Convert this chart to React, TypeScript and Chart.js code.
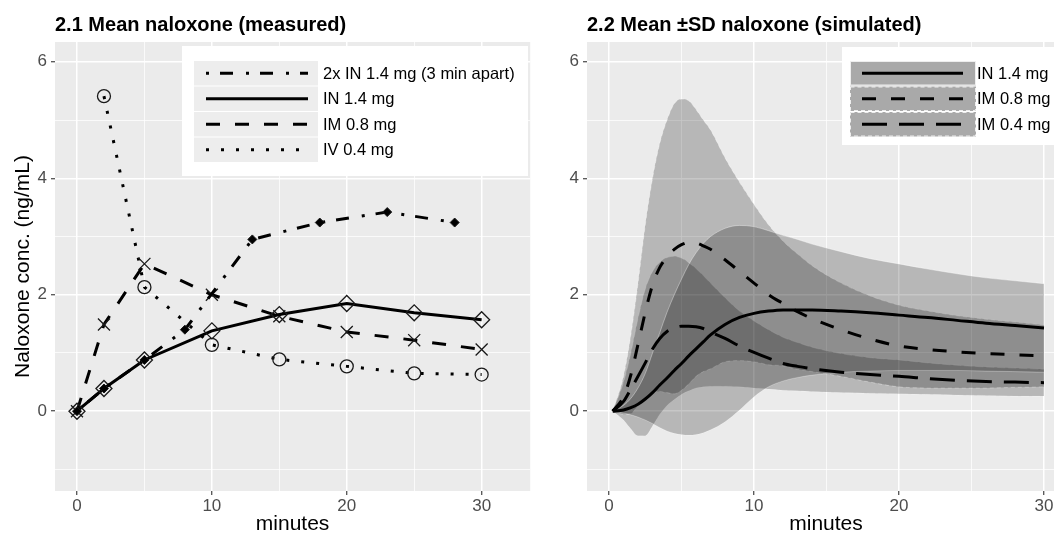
import React, { useEffect, useRef } from "react";
import { Chart, registerables } from "chart.js";

Chart.register(...registerables);

const FONT = '"Liberation Sans", Arial, Helvetica, sans-serif';
const TICK_TEXT = "#4D4D4D";
const PANEL_BG = "#EBEBEB";

// ---------- shared text / ticks
const panelTitles = ["2.1 Mean naloxone (measured)", "2.2 Mean \u00B1SD naloxone (simulated)"];
const yAxisTitle = "Naloxone conc. (ng/mL)";
const xAxisTitle = "minutes";
const xMajorTicks = [0, 10, 20, 30];
const yMajorTicks = [0, 2, 4, 6];

// ---------- 2.1 measured
const measuredLabels = ["2x IN 1.4 mg (3 min apart)", "IN 1.4 mg", "IM 0.8 mg", "IV 0.4 mg"];
const twoIn14Minutes = [0, 2, 5, 8, 13, 18, 23, 28];
const twoIn14Measured = [0, 0.39, 0.88, 1.4, 2.95, 3.24, 3.42, 3.24];
const measuredMinutes = [0, 2, 5, 10, 15, 20, 25, 30];
const in14Measured = [0, 0.39, 0.88, 1.38, 1.66, 1.85, 1.69, 1.57];
const im08Measured = [0, 1.49, 2.53, 2.0, 1.63, 1.36, 1.22, 1.06];
const iv04Minutes = [2, 5, 10, 15, 20, 25, 30];
const iv04Measured = [5.41, 2.13, 1.14, 0.89, 0.77, 0.65, 0.63];

// ---------- 2.2 simulated
const simulatedLabels = ["IN 1.4 mg", "IM 0.8 mg", "IM 0.4 mg"];
const simMinutes = [0.25, 1, 1.5, 2, 2.5, 3, 3.5, 4, 4.5, 5, 5.5, 6, 6.5, 7, 8, 9, 10, 11, 12, 13, 14, 16, 18, 20, 22, 24, 26, 28, 30];
const in14Mean = [0, 0.02, 0.06, 0.12, 0.21, 0.32, 0.45, 0.57, 0.7, 0.82, 0.95, 1.07, 1.19, 1.31, 1.49, 1.61, 1.68, 1.72, 1.74, 1.74, 1.74, 1.72, 1.69, 1.65, 1.61, 1.56, 1.51, 1.47, 1.43];
const in14Upper = [0, 0.1, 0.22, 0.4, 0.65, 1.0, 1.35, 1.7, 2.0, 2.27, 2.52, 2.72, 2.88, 3.0, 3.14, 3.19, 3.17, 3.1, 3.02, 2.95, 2.87, 2.74, 2.62, 2.53, 2.44, 2.36, 2.29, 2.24, 2.19];
const in14Lower = [0, -0.03, -0.06, -0.1, -0.15, -0.21, -0.28, -0.34, -0.38, -0.4, -0.41, -0.4, -0.37, -0.32, -0.18, 0.02, 0.25, 0.42, 0.52, 0.58, 0.62, 0.67, 0.69, 0.7, 0.7, 0.7, 0.69, 0.68, 0.67];
const im08Mean = [0, 0.25, 0.62, 1.15, 1.7, 2.17, 2.47, 2.65, 2.78, 2.86, 2.9, 2.89, 2.84, 2.78, 2.6, 2.4, 2.2, 2.0, 1.85, 1.71, 1.59, 1.4, 1.24, 1.12, 1.06, 1.02, 0.99, 0.97, 0.95];
const im08Upper = [0, 0.6, 1.3, 2.2, 3.2, 4.0, 4.6, 5.0, 5.28, 5.36, 5.33, 5.18, 5.0, 4.83, 4.35, 3.93, 3.55, 3.2, 2.92, 2.7, 2.5, 2.2, 1.98, 1.82, 1.72, 1.64, 1.58, 1.53, 1.48];
const im08Lower = [0, -0.05, -0.04, 0.1, 0.2, 0.32, 0.34, 0.32, 0.3, 0.36, 0.47, 0.6, 0.68, 0.73, 0.85, 0.87, 0.85, 0.8, 0.78, 0.72, 0.68, 0.6, 0.5, 0.42, 0.4, 0.4, 0.4, 0.41, 0.42];
const im04Mean = [0, 0.17, 0.38, 0.6, 0.83, 1.07, 1.25, 1.37, 1.43, 1.46, 1.46, 1.45, 1.42, 1.36, 1.25, 1.12, 1.01, 0.91, 0.82, 0.77, 0.73, 0.67, 0.63, 0.6, 0.56, 0.53, 0.51, 0.5, 0.49];
const im04Upper = [0, 0.5, 1.0, 1.6, 2.1, 2.4, 2.56, 2.64, 2.66, 2.63, 2.55, 2.45, 2.33, 2.2, 1.95, 1.72, 1.55, 1.4, 1.27, 1.18, 1.1, 0.99, 0.92, 0.88, 0.83, 0.79, 0.76, 0.74, 0.72];
const im04Lower = [0, -0.15, -0.3, -0.42, -0.42, -0.25, -0.05, 0.1, 0.2, 0.29, 0.35, 0.4, 0.42, 0.43, 0.43, 0.42, 0.4, 0.38, 0.36, 0.35, 0.34, 0.32, 0.31, 0.3, 0.29, 0.28, 0.27, 0.26, 0.26];

const pts = (xs: number[], ys: number[]) => xs.map((x, i) => ({ x, y: ys[i] }));

function buildScales(xMin: number, xMax: number, yMin: number, yMax: number, yWidth: number) {
  const majX = (v: any) => xMajorTicks.includes(v);
  const majY = (v: any) => yMajorTicks.includes(v);
  return {
    x: {
      type: "linear",
      min: xMin,
      max: xMax,
      afterFit: (s: any) => {
        s.height = 44;
        s.paddingLeft = 0;
        s.paddingRight = 0;
      },
      border: { display: false },
      grid: {
        color: "#FFFFFF",
        lineWidth: (c: any) => (majX(c.tick && c.tick.value) ? 1.5 : 0.75),
        drawTicks: true,
        tickLength: 4,
        tickWidth: 1.1,
        tickColor: (c: any) => (majX(c.tick && c.tick.value) ? "#333333" : "rgba(0,0,0,0)"),
      },
      ticks: {
        stepSize: 5,
        includeBounds: false,
        autoSkip: false,
        maxRotation: 0,
        minRotation: 0,
        padding: 1,
        color: TICK_TEXT,
        font: { family: FONT, size: 17 },
        callback: (v: any) => (majX(v) ? String(v) : ""),
      },
    },
    y: {
      type: "linear",
      min: yMin,
      max: yMax,
      afterFit: (s: any) => {
        s.width = yWidth;
        s.paddingTop = 0;
        s.paddingBottom = 0;
      },
      border: { display: false },
      grid: {
        color: "#FFFFFF",
        lineWidth: (c: any) => (majY(c.tick && c.tick.value) ? 1.5 : 0.75),
        drawTicks: true,
        tickLength: 4,
        tickWidth: 1.1,
        tickColor: (c: any) => (majY(c.tick && c.tick.value) ? "#333333" : "rgba(0,0,0,0)"),
      },
      ticks: {
        stepSize: 1,
        includeBounds: false,
        autoSkip: false,
        padding: 4,
        color: TICK_TEXT,
        font: { family: FONT, size: 17 },
        callback: (v: any) => (majY(v) ? String(v) : ""),
      },
    },
  };
}

const panelBg = {
  id: "panelBg",
  beforeDraw(chart: any) {
    const { ctx, chartArea: a } = chart;
    ctx.save();
    ctx.fillStyle = PANEL_BG;
    ctx.fillRect(a.left, a.top, a.right - a.left, a.bottom - a.top);
    ctx.restore();
  },
};

type LegendCfg = {
  box: { x: number; y: number; w: number; h: number };
  keyX: number;
  keyW: number;
  rowY: number;
  rowH: number;
  keyH: number;
  lineX1: number;
  lineX2: number;
  textX: number;
  keyFill: string;
  keyBorder: boolean;
  indices: number[];
};

function drawLegend(ctx: CanvasRenderingContext2D, chart: any, cfg: LegendCfg) {
  ctx.save();
  ctx.fillStyle = "#FFFFFF";
  ctx.fillRect(cfg.box.x, cfg.box.y, cfg.box.w, cfg.box.h);
  cfg.indices.forEach((di, i) => {
    const ds = chart.data.datasets[di];
    const y0 = cfg.rowY + i * cfg.rowH;
    ctx.fillStyle = cfg.keyFill;
    ctx.fillRect(cfg.keyX, y0, cfg.keyW, cfg.keyH);
    if (cfg.keyBorder) {
      ctx.setLineDash(ds.borderDash && ds.borderDash.length ? [4, 3] : []);
      ctx.strokeStyle = "rgba(255,255,255,0.8)";
      ctx.lineWidth = 1;
      ctx.strokeRect(cfg.keyX + 0.5, y0 + 0.5, cfg.keyW - 1, cfg.keyH - 1);
    }
    const cy = y0 + cfg.keyH / 2;
    ctx.setLineDash(ds.borderDash || []);
    ctx.lineDashOffset = 0;
    ctx.lineCap = "butt";
    ctx.lineWidth = ds.borderWidth;
    ctx.strokeStyle = "#000000";
    ctx.beginPath();
    ctx.moveTo(cfg.lineX1, cy);
    ctx.lineTo(cfg.lineX2, cy);
    ctx.stroke();
    ctx.setLineDash([]);
    ctx.fillStyle = "#000000";
    ctx.font = `16.5px ${FONT}`;
    ctx.textAlign = "left";
    ctx.textBaseline = "middle";
    ctx.fillText(ds.label, cfg.textX, cy + 1);
  });
  ctx.restore();
}

function drawTexts(ctx: CanvasRenderingContext2D, chart: any, title: string, xTitleCenter: number, withY: boolean) {
  const a = chart.chartArea;
  ctx.save();
  ctx.fillStyle = "#000000";
  ctx.font = `bold 20px ${FONT}`;
  ctx.textAlign = "left";
  ctx.textBaseline = "alphabetic";
  ctx.fillText(title, a.left, 31);
  ctx.font = `21px ${FONT}`;
  ctx.textAlign = "center";
  ctx.fillText(xAxisTitle, xTitleCenter, 530);
  if (withY) {
    ctx.translate(29, (a.top + a.bottom) / 2);
    ctx.rotate(-Math.PI / 2);
    ctx.fillText(yAxisTitle, 0, 0);
  }
  ctx.restore();
}

const leftOverlay = {
  id: "leftOverlay",
  afterDraw(chart: any) {
    const ctx = chart.ctx;
    const a = chart.chartArea;
    drawTexts(ctx, chart, panelTitles[0], (a.left + a.right) / 2, true);
    drawLegend(ctx, chart, {
      box: { x: 182, y: 46, w: 346, h: 130 },
      keyX: 194,
      keyW: 124,
      rowY: 61,
      rowH: 25.5,
      keyH: 24.5,
      lineX1: 206,
      lineX2: 308,
      textX: 323,
      keyFill: "#EDEDED",
      keyBorder: false,
      indices: [0, 1, 2, 3],
    });
  },
};

const rightOverlay = {
  id: "rightOverlay",
  afterDraw(chart: any) {
    const ctx = chart.ctx;
    drawTexts(ctx, chart, panelTitles[1], 286, false);
    drawLegend(ctx, chart, {
      box: { x: 302, y: 47, w: 230, h: 98 },
      keyX: 310,
      keyW: 126,
      rowY: 61,
      rowH: 25.5,
      keyH: 24.5,
      lineX1: 322,
      lineX2: 423,
      textX: 437,
      keyFill: "#A9A9A9",
      keyBorder: true,
      indices: [0, 1, 2],
    });
  },
};

const DASH_DOTDASH = [3, 11, 13, 13];
const DASH_DASHED = [14, 15];
const DASH_DOTTED = [3, 12];
const DASH_LONG = [25, 12];

function leftConfig(): any {
  const base = { borderColor: "#000000", borderWidth: 3, borderCapStyle: "butt", tension: 0, fill: false, pointBorderColor: "#1A1A1A" };
  return {
    type: "line",
    data: {
      datasets: [
        { ...base, label: measuredLabels[0], data: pts(twoIn14Minutes, twoIn14Measured), borderDash: DASH_DOTDASH, pointStyle: "rectRot", pointRadius: 4.5, pointBackgroundColor: "#000000", pointBorderWidth: 1 },
        { ...base, label: measuredLabels[1], data: pts(measuredMinutes, in14Measured), borderDash: [], pointStyle: "rectRot", pointRadius: 8, pointBackgroundColor: "rgba(0,0,0,0)", pointBorderWidth: 1.3 },
        { ...base, label: measuredLabels[2], data: pts(measuredMinutes, im08Measured), borderDash: DASH_DASHED, pointStyle: "crossRot", pointRadius: 8.5, pointBackgroundColor: "rgba(0,0,0,0)", pointBorderWidth: 1.3 },
        { ...base, label: measuredLabels[3], data: pts(iv04Minutes, iv04Measured), borderDash: DASH_DOTTED, pointStyle: "circle", pointRadius: 6.5, pointBackgroundColor: "rgba(0,0,0,0)", pointBorderWidth: 1.3 },
      ],
    },
    options: {
      animation: false,
      responsive: false,
      events: [],
      layout: { padding: { left: 0, right: 9, top: 42, bottom: 0 } },
      plugins: { legend: { display: false }, tooltip: { enabled: false }, title: { display: false } },
      scales: buildScales(-1.63, 33.6, -1.37, 6.34, 55),
    },
    plugins: [panelBg, leftOverlay],
  };
}

function rightConfig(): any {
  const line = { borderColor: "#000000", borderWidth: 3, borderCapStyle: "butt", pointRadius: 0, fill: false, cubicInterpolationMode: "monotone" };
  const band = { borderColor: "rgba(255,255,255,0.45)", borderWidth: 0.8, pointRadius: 0, backgroundColor: "rgba(0,0,0,0.22)", cubicInterpolationMode: "monotone" };
  return {
    type: "line",
    data: {
      datasets: [
        { ...line, label: simulatedLabels[0], data: pts(simMinutes, in14Mean), borderDash: [] },
        { ...line, label: simulatedLabels[1], data: pts(simMinutes, im08Mean), borderDash: DASH_DASHED },
        { ...line, label: simulatedLabels[2], data: pts(simMinutes, im04Mean), borderDash: DASH_LONG },
        { ...band, label: "IN upper", data: pts(simMinutes, in14Upper), fill: "+1" },
        { ...band, label: "IN lower", data: pts(simMinutes, in14Lower), fill: false },
        { ...band, label: "IM08 upper", data: pts(simMinutes, im08Upper), fill: "+1", borderDash: [4, 3] },
        { ...band, label: "IM08 lower", data: pts(simMinutes, im08Lower), fill: false, borderDash: [4, 3] },
        { ...band, label: "IM04 upper", data: pts(simMinutes, im04Upper), fill: "+1", borderDash: [8, 3] },
        { ...band, label: "IM04 lower", data: pts(simMinutes, im04Lower), fill: false, borderDash: [8, 3] },
      ],
    },
    options: {
      animation: false,
      responsive: false,
      events: [],
      layout: { padding: { left: 0, right: 0, top: 42, bottom: 0 } },
      plugins: { legend: { display: false }, tooltip: { enabled: false }, title: { display: false }, filler: { propagate: false } },
      scales: buildScales(-1.52, 30.69, -1.37, 6.34, 47),
    },
    plugins: [panelBg, rightOverlay],
  };
}

function ChartCanvas({ make, left, width }: { make: () => any; left: number; width: number }) {
  const ref = useRef<HTMLCanvasElement | null>(null);
  useEffect(() => {
    if (!ref.current) return;
    const chart = new Chart(ref.current, make());
    return () => chart.destroy();
  }, []);
  return <canvas ref={ref} width={width} height={535} style={{ position: "absolute", left, top: 0 }} />;
}

export default function App() {
  return (
    <div style={{ position: "absolute", left: 0, top: 0, width: 1054, height: 535, overflow: "hidden", background: "#FFFFFF" }}>
      <ChartCanvas make={leftConfig} left={0} width={540} />
      <ChartCanvas make={rightConfig} left={540} width={514} />
    </div>
  );
}
